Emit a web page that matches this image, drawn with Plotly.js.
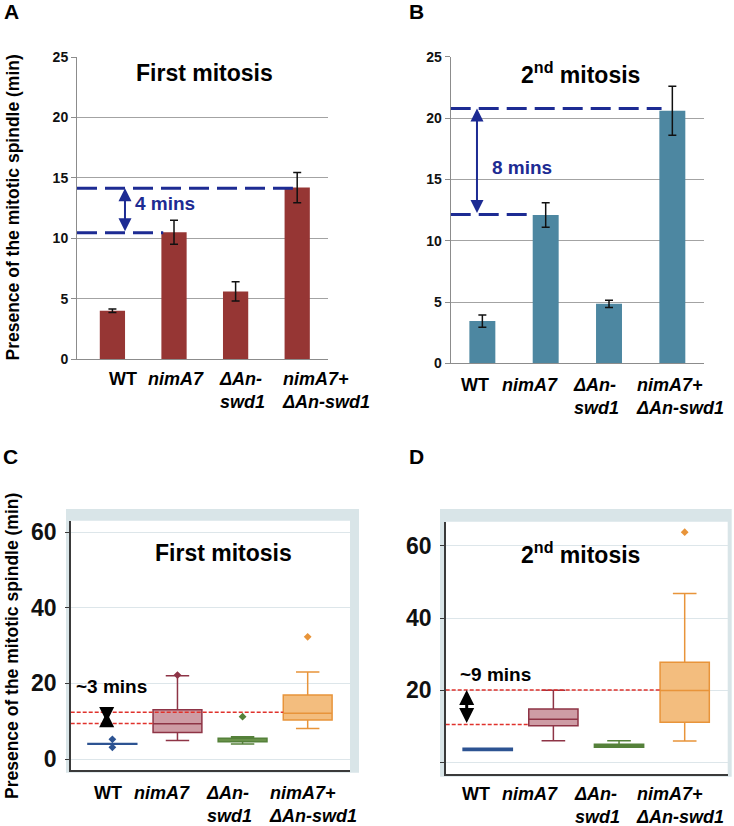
<!DOCTYPE html>
<html>
<head>
<meta charset="utf-8">
<script src="https://cdn.plot.ly/plotly-3.0.1.min.js"></script>
<style>html,body{margin:0;padding:0;background:#fff;}#chart{width:734px;height:826px;}</style>
</head>
<body>
<div id="chart"></div>
<script>
// ---------------- data ----------------
const categories = ['WT', 'nimA7', 'ΔAn-swd1', 'nimA7+ΔAn-swd1'];
const tickLabels = ['WT', '<i>nimA7</i>', '<i>ΔAn-</i><br><i>swd1</i>', '<i>nimA7+</i><br><i>ΔAn-swd1</i>'];

// Panel A / B : mean duration with error bars
const firstMean  = [4.0, 10.5, 5.6, 14.2];
const firstErr   = [0.15, 1.0, 0.8, 1.25];
const secondMean = [3.45, 12.1, 4.85, 20.6];
const secondErr  = [0.5, 1.0, 0.3, 2.0];
const firstGuide  = [10.45, 14.15];  // dashed guide levels, panel A
const secondGuide = [12.15, 20.8];   // dashed guide levels, panel B

// Panel C : box statistics, first mitosis
const firstQ1     = [3.9, 7.0, 4.6, 10.3];
const firstMedian = [4.0, 9.3, 5.0, 12.1];
const firstQ3     = [4.1, 13.0, 5.5, 16.9];
const firstLow    = [3.9, 4.9, 4.0, 8.1];
const firstHigh   = [4.1, 22.0, 5.9, 23.0];
const firstOutX   = ['WT', 'WT', 'nimA7', 'ΔAn-swd1', 'nimA7+ΔAn-swd1'];
const firstOutY   = [5.2, 3.1, 22.2, 11.2, 32.3];
const firstBoxGuide = [9.4, 12.35];

// Panel D : box statistics, second mitosis
const secondQ1     = [3.3, 10.1, 4.2, 11.1];
const secondMedian = [3.6, 11.9, 4.6, 19.9];
const secondQ3     = [3.9, 14.8, 5.0, 27.7];
const secondLow    = [3.3, 6.0, 4.2, 5.9];
const secondHigh   = [3.9, 20.0, 6.0, 46.8];
const secondOutX   = ['nimA7+ΔAn-swd1'];
const secondOutY   = [63.8];
const secondBoxGuide = [10.5, 20.05];

const barTicks = [0, 5, 10, 15, 20, 25];
const boxTicks = [0, 20, 40, 60];
const boxTickTextC = ['0', '20', '40', '60'];
const boxTickTextD = ['', '20', '40', '60'];
const guideLabels = ['4 mins', '8 mins', '~3 mins', '~9 mins'];
const panelTitles = ['First mitosis', '2<sup>nd</sup> mitosis', 'First mitosis', '2<sup>nd</sup> mitosis'];
const panelLetters = ['A', 'B', 'C', 'D'];
const yTitle = 'Presence of the mitotic spindle (min)';

// ---------------- styles ----------------
const FONT = 'Arial, "Liberation Sans", sans-serif';
const W = 734, H = 826;
const px = p => p / W;
const py = p => 1 - p / H;
const NAVY = '#1d2b93';
const RED = '#e0322c';
const boxLine = ['#2d5392', '#8e3446', '#55813a', '#e8943a'];
const boxFill = ['rgba(80,120,180,0.5)', 'rgba(176,96,110,0.62)', 'rgba(140,180,90,0.8)', 'rgba(240,170,90,0.78)'];

const traces = [];
traces.push({
  type: 'bar', x: categories, y: firstMean, xaxis: 'x', yaxis: 'y', width: 0.41,
  marker: {color: '#963634'},
  error_y: {type: 'data', array: firstErr, color: '#111', thickness: 1.5, width: 4}
});
traces.push({
  type: 'bar', x: categories, y: secondMean, xaxis: 'x2', yaxis: 'y2', width: 0.41,
  marker: {color: '#4d87a1'},
  error_y: {type: 'data', array: secondErr, color: '#111', thickness: 1.5, width: 4}
});
function addBoxes(q1, med, q3, lo, hi, xa, ya) {
  categories.forEach((c, i) => {
    traces.push({
      type: 'box', x: [c], q1: [q1[i]], median: [med[i]], q3: [q3[i]],
      lowerfence: [lo[i]], upperfence: [hi[i]], boxpoints: false,
      xaxis: xa, yaxis: ya, width: 0.75, whiskerwidth: 0.48,
      line: {color: boxLine[i], width: 1.5}, fillcolor: boxFill[i]
    });
  });
}
addBoxes(firstQ1, firstMedian, firstQ3, firstLow, firstHigh, 'x3', 'y3');
addBoxes(secondQ1, secondMedian, secondQ3, secondLow, secondHigh, 'x4', 'y4');
traces.push({
  type: 'scatter', mode: 'markers', x: firstOutX, y: firstOutY, xaxis: 'x3', yaxis: 'y3',
  marker: {symbol: 'diamond', size: 6, color: firstOutX.map(c => boxLine[categories.indexOf(c)])}
});
traces.push({
  type: 'scatter', mode: 'markers', x: secondOutX, y: secondOutY, xaxis: 'x4', yaxis: 'y4',
  marker: {symbol: 'diamond', size: 6, color: secondOutX.map(c => boxLine[categories.indexOf(c)])}
});

const xBase = {type: 'category', categoryorder: 'array', categoryarray: categories,
  showticklabels: false, ticks: '', showgrid: false, zeroline: false, fixedrange: true};
const yBar = {tickvals: barTicks, showgrid: true, gridcolor: '#a3a3a3', gridwidth: 1,
  showline: true, linecolor: '#8c8c8c', linewidth: 1, ticks: 'outside', ticklen: 5,
  tickcolor: '#8c8c8c', zeroline: false,
  tickfont: {family: FONT, size: 14, color: '#111', weight: 'bold'}};
const yBox = {tickvals: boxTicks, showgrid: true, gridcolor: '#dde6ea', gridwidth: 1,
  showline: true, linecolor: '#3a3a3a', linewidth: 1.5, ticks: 'outside', ticklen: 4,
  tickcolor: '#3a3a3a', zeroline: false, ticklabelstandoff: 4,
  tickfont: {family: FONT, size: 23, color: '#111', weight: 'bold'}};

const layout = {
  width: W, height: H, margin: {l: 0, r: 0, t: 0, b: 0},
  paper_bgcolor: '#fff', plot_bgcolor: '#fff', showlegend: false, hovermode: false,
  boxmode: 'overlay', font: {family: FONT, color: '#111'},
  xaxis: Object.assign({}, xBase, {domain: [px(77), px(328)], anchor: 'y', range: [-0.575, 3.5],
    showline: true, linecolor: '#8c8c8c', linewidth: 1}),
  yaxis: Object.assign({}, yBar, {domain: [py(359), py(57)], anchor: 'x', range: [0, 25.02]}),
  xaxis2: Object.assign({}, xBase, {domain: [px(450.7), px(704)], anchor: 'y2', range: [-0.5, 3.5],
    showline: true, linecolor: '#8c8c8c', linewidth: 1}),
  yaxis2: Object.assign({}, yBar, {domain: [py(363.3), py(56.7)], anchor: 'x2', range: [0, 25.02]}),
  xaxis3: Object.assign({}, xBase, {domain: [px(70.7), px(350)], anchor: 'y3', range: [-0.64, 3.65],
    showline: true, linecolor: '#3a3a3a', linewidth: 2}),
  yaxis3: Object.assign({}, yBox, {domain: [py(770), py(520.7)], anchor: 'x3', range: [-2.9, 63],
    ticktext: boxTickTextC}),
  xaxis4: Object.assign({}, xBase, {domain: [px(445.7), px(727.7)], anchor: 'y4', range: [-0.64, 3.655],
    showline: true, linecolor: '#3a3a3a', linewidth: 2}),
  yaxis4: Object.assign({}, yBox, {domain: [py(774), py(521.7)], anchor: 'x4', range: [-3.25, 66.7],
    ticktext: boxTickTextD}),
  shapes: [],
  annotations: []
};

// frames around box panels
[[66, 359, 509, 772.7, 70.7, 350, 520.7, 770], [440, 731.7, 509, 776.7, 445.7, 727.7, 521.7, 774]].forEach(f => {
  layout.shapes.push({type: 'rect', xref: 'paper', yref: 'paper', layer: 'below',
    x0: px(f[0]), x1: px(f[1]), y0: py(f[3]), y1: py(f[2]), fillcolor: '#d9e5e8', line: {width: 0}});
  layout.shapes.push({type: 'rect', xref: 'paper', yref: 'paper', layer: 'below',
    x0: px(f[4]), x1: px(f[5]), y0: py(f[7]), y1: py(f[6]), fillcolor: '#ffffff', line: {width: 0}});
});

// guide lines
function guide(xa, ya, x0, x1, yv, color, width, dash) {
  layout.shapes.push({type: 'line', xref: xa, yref: ya, x0: x0, x1: x1, y0: yv, y1: yv,
    line: {color: color, width: width, dash: dash}});
}
guide('x', 'y', -0.575, 0.825, firstGuide[0], NAVY, 3, '20px,8px');
guide('x', 'y', -0.575, 2.93, firstGuide[1], NAVY, 3, '20px,8px');
guide('x2', 'y2', -0.5, 0.78, secondGuide[0], NAVY, 3, '20px,8px');
guide('x2', 'y2', -0.5, 2.83, secondGuide[1], NAVY, 3, '20px,8px');
guide('x3', 'y3', -0.64, 0.625, firstBoxGuide[0], RED, 1.5, '4px,2px');
guide('x3', 'y3', -0.64, 2.625, firstBoxGuide[1], RED, 1.5, '4px,2px');
guide('x4', 'y4', -0.64, 0.625, secondBoxGuide[0], RED, 1.5, '4px,2px');
guide('x4', 'y4', -0.64, 2.625, secondBoxGuide[1], RED, 1.5, '4px,2px');

const A = layout.annotations;
function arrow(xa, ya, xv, lo, hi, color, w, size) {
  A.push({xref: xa, yref: ya, axref: xa, ayref: ya, x: xv, y: hi, ax: xv, ay: lo, text: '',
    showarrow: true, arrowside: 'end+start', arrowhead: 2, arrowsize: size, arrowwidth: w, arrowcolor: color});
}
arrow('x', 'y', 0.204, firstGuide[0], firstGuide[1], NAVY, 2, 1.3);
arrow('x2', 'y2', -0.085, secondGuide[0], secondGuide[1], NAVY, 2, 1.3);
arrow('x3', 'y3', -0.087, firstBoxGuide[0], firstBoxGuide[1], '#000', 3, 1);
arrow('x4', 'y4', -0.32, secondBoxGuide[0], secondBoxGuide[1], '#000', 3, 1);

function txt(xa, ya, xv, yv, t, size, color) {
  A.push({xref: xa, yref: ya, x: xv, y: yv, text: t, showarrow: false, xanchor: 'center', yanchor: 'middle',
    font: {family: FONT, size: size, color: color, weight: 'bold'}});
}
txt('x', 'y', 0.854, 12.9, guideLabels[0], 19, NAVY);
txt('x2', 'y2', 0.62, 16.0, guideLabels[1], 19, NAVY);
txt('x3', 'y3', -0.02, 19.1, guideLabels[2], 19, '#000');
txt('x4', 'y4', 0.126, 24.2, guideLabels[3], 19, '#000');

// panel titles
[[204, 73], [580.5, 73], [223.3, 553.3], [580, 553.3]].forEach((p, i) => {
  txt('paper', 'paper', px(p[0]), py(p[1]), panelTitles[i], 23, '#000');
});
// panel letters
[[11.7, 11], [416.5, 11], [10.8, 456.7], [416.3, 456.3]].forEach((p, i) => {
  txt('paper', 'paper', px(p[0]), py(p[1]), panelLetters[i], 21, '#000');
});
// y titles
[[12, 207.5], [12, 646]].forEach(p => {
  A.push({xref: 'paper', yref: 'paper', x: px(p[0]), y: py(p[1]), text: yTitle, textangle: -90,
    showarrow: false, xanchor: 'center', yanchor: 'middle',
    font: {family: FONT, size: 17.5, color: '#000', weight: 'bold'}});
});
// category labels under each panel
const labelRows = [
  {xa: 'x', top: 367.5, shift: [-5.8, -28.5, -18.8, -17.5]},
  {xa: 'x2', top: 373, shift: [-23, -45.5, -37.8, -38.2]},
  {xa: 'x3', top: 781, shift: [-20.8, -45.9, -38.7, -41.1]},
  {xa: 'x4', top: 781.7, shift: [-27.8, -53.4, -47.3, -50.3]}
];
labelRows.forEach(r => {
  tickLabels.forEach((t, i) => {
    A.push({xref: r.xa, yref: 'paper', x: i, y: py(r.top), xshift: r.shift[i], text: t,
      showarrow: false, xanchor: 'left', yanchor: 'top', align: 'left',
      font: {family: FONT, size: 18, color: '#000', weight: 'bold'}});
  });
});

Plotly.newPlot('chart', traces, layout, {staticPlot: true, displayModeBar: false});
</script>
</body>
</html>
